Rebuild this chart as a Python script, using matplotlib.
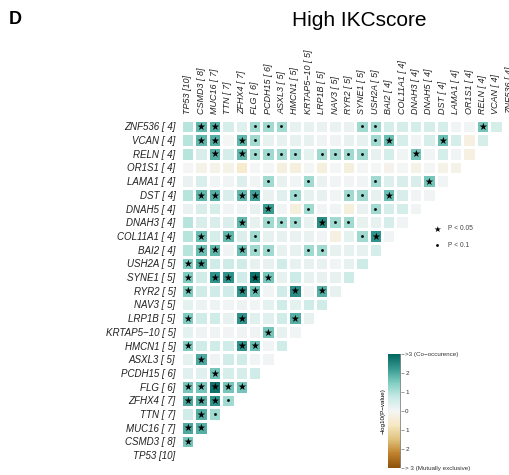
import numpy as np
import matplotlib
matplotlib.use("Agg")
import matplotlib.pyplot as plt
from matplotlib.colors import LinearSegmentedColormap, Normalize
from matplotlib.colorbar import ColorbarBase

plt.rcParams['font.family'] = ['Liberation Sans', 'DejaVu Sans']

# genes in plot order (left->right on x, bottom->top on y) and mutation counts
genes = ["TP53", "CSMD3", "MUC16", "TTN", "ZFHX4", "FLG", "PCDH15", "ASXL3",
         "HMCN1", "KRTAP5−10", "LRP1B", "NAV3", "RYR2", "SYNE1", "USH2A", "BAI2",
         "COL11A1", "DNAH3", "DNAH5", "DST", "LAMA1", "OR1S1", "RELN", "VCAN", "ZNF536"]
counts = [10, 8, 7, 7, 7, 6, 6, 5, 5, 5, 5, 5, 5, 5, 5, 4, 4, 4, 4, 4, 4, 4, 4, 4, 4]

# signed -log10(p): + co-occurrence, - mutually exclusive; row i vs genes 0..i-1
scores = [
    [],
    [1.6],
    [2.0, 1.9],
    [0.6, 1.9, 1.15],
    [2.0, 1.9, 2.3, 1.15],
    [1.6, 1.6, 2.8, 1.6, 1.6],
    [0.35, 0.35, 1.6, 0.5, 0.5, 0.6],
    [0.3, 2.0, 0.1, 0.6, 0.6, 0.05, 0.05],
    [1.5, 0.6, 0.6, 0.6, 2.3, 1.7, 0.05, 0.6],
    [0.3, 0.1, 0.1, 0.05, 0.1, 0.1, 1.6, 0.25, 0.05],
    [1.5, 0.6, 0.6, 0.25, 2.3, 0.35, 0.35, 0.6, 1.9, 0.25],
    [0.3, 0.15, 0.15, 0.05, 0.15, 0.05, 0.3, 0.6, 0.3, 0.6, 0.6],
    [1.5, 0.6, 0.6, 0.6, 2.3, 1.7, 0.05, 0.6, 2.4, 0.05, 1.9, 0.25],
    [1.5, 0.6, 2.3, 2.3, 0.6, 2.8, 1.6, 0.25, 0.65, 0.25, 0.25, 0.25, 0.65],
    [1.5, 2.0, 0.6, 0.65, 0.6, 0.25, 0.25, 0.6, 0.25, 0.25, 0.25, 0.05, 0.25, 0.65],
    [0.9, 1.7, 1.8, 0.1, 1.7, 1.15, 1.15, 0.25, 0.25, 1.15, 1.15, 0.25, 0.25, 0.25, 0.5],
    [0.9, 1.7, 0.5, 1.8, 0.4, 1.15, 0.25, 0.25, 0.2, 0.2, 0.05, -0.3, 0.3, 1.15, 2.3, 0.05],
    [0.9, 0.45, 0.45, 0.45, 1.8, 0.25, 1.15, 1.15, 1.15, 0.25, 2.4, 1.15, 1.15, 0.25, 0.25, 0.5, 0.05],
    [0.2, 0.45, 0.5, 0.05, 0.05, 0.25, 2.2, 0.05, -0.35, 1.15, 0.05, 0.05, -0.35, 0.2, 1.15, 0.5, 0.5, 0.05],
    [0.9, 1.8, 1.9, 0.45, 1.8, 2.1, 0.2, 0.35, 1.15, 0.25, 0.25, 0.05, 1.15, 1.15, 0.25, 1.7, 0.45, 0.05, 0.05],
    [0.2, 0.45, 0.05, 0.05, 0.4, 0.05, 1.15, 0.25, 0.05, 1.15, 0.2, 0.05, 0.05, 0.05, 1.15, 0.4, 0.45, 0.45, 1.6, 0.05],
    [0.0, -0.2, -0.2, -0.2, -0.6, 0.0, 0.0, -0.35, -0.35, 0.0, -0.35, 0.0, -0.35, 0.0, 0.0, -0.15, 0.0, -0.2, 0.0, -0.2, -0.2],
    [0.9, 0.45, 1.9, 0.5, 1.8, 1.15, 1.15, 1.15, 1.15, 0.3, 1.15, 1.15, 1.15, 1.15, 0.25, 0.5, 0.05, 1.6, 0.05, 0.5, 0.05, -0.3],
    [0.9, 1.8, 1.9, 0.0, 1.8, 1.15, 0.25, 0.25, 0.25, 0.25, 0.1, 0.1, 0.25, 0.25, 1.15, 1.7, 0.5, 0.05, 0.5, 1.7, 0.5, -0.3, 0.5],
    [0.9, 1.8, 1.9, 0.5, 0.35, 1.15, 1.15, 1.15, 0.25, 0.25, 0.2, 0.2, 0.2, 1.15, 1.15, 0.5, 0.5, 0.5, 0.5, 0.5, 0.05, 0.05, 1.6, 0.5],
]

n = len(genes)
labels = [f"{g} [{c:2d}]" for g, c in zip(genes, counts)]

mat = np.full((n, n), np.nan)
for i, row in enumerate(scores):
    mat[i, :len(row)] = row
mat = np.ma.masked_invalid(mat)

cmap = LinearSegmentedColormap.from_list(
    "brbg", ['#8C510A', '#BF812D', '#DFC27D', '#F6E8C3', '#F5F5F5',
             '#C7EAE5', '#80CDC1', '#35978F', '#01665E'])
norm = Normalize(-3, 3)

fig = plt.figure(figsize=(5.1, 4.75), dpi=100)
W, H = 510, 475
ax = fig.add_axes([181 / W, 13 / H, 25 * 13.4 / W, 25 * 13.7 / H])
ax.pcolormesh(np.arange(n + 1), np.arange(n + 1), mat, cmap=cmap, norm=norm,
              edgecolors='white', linewidth=0.9)

# significance marks
for i, row in enumerate(scores):
    for j, v in enumerate(row):
        if abs(v) > 1.301:
            ax.text(j + 0.5, i + 0.45, "★", ha='center', va='center', fontsize=7,
                    color='black', family='DejaVu Sans')
        elif abs(v) > 1:
            ax.plot(j + 0.5, i + 0.5, marker='s', markersize=0.9, color='black', lw=0)

ax.set_xlim(0, n)
ax.set_ylim(0, n)
ax.set_xticks(np.arange(n) + 0.5)
ax.set_yticks(np.arange(n) + 0.5)
ax.xaxis.tick_top()
ax.set_xticklabels(labels, rotation=90, fontsize=6.5, style='italic', color='#222222')
ax.set_yticklabels(labels, fontsize=7, style='italic', color='#222222')
ax.tick_params(length=0, pad=4)
for s in ax.spines.values():
    s.set_visible(False)

fig.text(359 / W, 1 - 21 / H, "High IKCscore", ha='center', va='center', fontsize=15)
fig.text(9 / W, 1 - 20 / H, "D", ha='left', va='center', fontsize=13, fontweight='bold')

# p-value legend
fig.text(437 / W, 1 - 229 / H, "★", ha='center', va='center', fontsize=6, family='DejaVu Sans')
fig.text(448 / W, 1 - 228 / H, "P < 0.05", ha='left', va='center', fontsize=4.8, color='#444444')
fig.lines.append(plt.Line2D([437 / W], [1 - 245 / H], marker='s', markersize=0.9,
                            color='black', lw=0, transform=fig.transFigure))
fig.text(448 / W, 1 - 245 / H, "P < 0.1", ha='left', va='center', fontsize=4.8, color='#444444')

# colour bar
cax = fig.add_axes([388 / W, 7 / H, 13 / W, 114 / H])
cb = ColorbarBase(cax, cmap=cmap, norm=norm, orientation='vertical')
cb.outline.set_visible(False)
cb.set_ticks([-3, -2, -1, 0, 1, 2, 3])
cb.set_ticklabels(['> 3 (Mutually exclusive)', '2', '1', '0', '1', '2', '>3 (Co−occurence)'])
cax.tick_params(labelsize=4.5, length=2, width=0.6, color='#888888', pad=1, labelcolor='#333333')
cax.axvline(1, color='#888888', lw=1.2)
cax.set_ylabel("−log10(P−value)", fontsize=4.5, labelpad=2)
cax.yaxis.set_label_position('left')

fig.savefig("out.png", dpi=100)
